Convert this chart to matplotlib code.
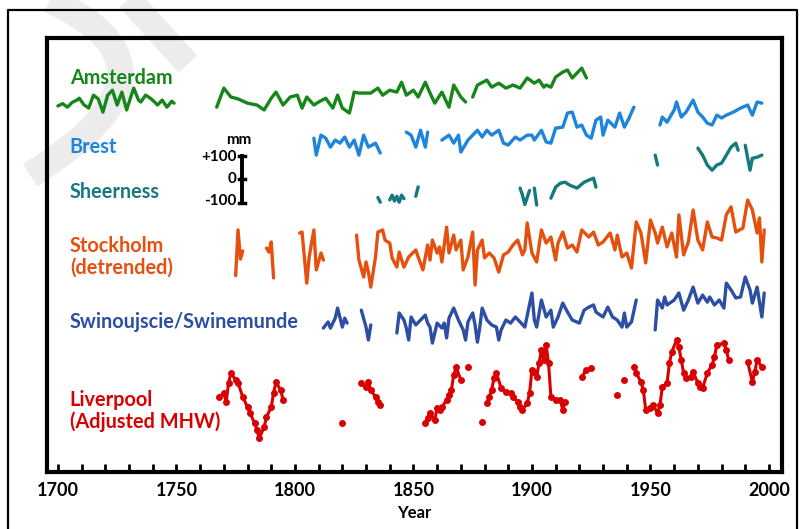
import numpy as np
import matplotlib
matplotlib.use("Agg")
import matplotlib.pyplot as plt
from matplotlib.lines import Line2D

nan = float("nan")

# Annual sea-level anomalies in mm; nan separates gaps in each record
amsterdam_year = [1700, 1702, 1704, 1706, 1708, 1709, 1711, 1713, 1715, 1717, 1719, 1721, 1723, 1725,
                  1727, 1729, 1731, 1732, 1734, 1735, 1737, 1739, 1741, 1742, 1744, 1746, 1748, 1749,
                  1758,
                  1767, 1770, 1773, 1776, 1780, 1784, 1787, 1790, 1792, 1795, 1798, 1801, 1803, 1805,
                  1808, 1810, 1813, 1816, 1818, 1820, 1823, 1825, 1827, 1832, 1835, 1837, 1840, 1843,
                  1845, 1847, 1850, 1852, 1855, 1857, 1859, 1862, 1865, 1867, 1870, 1872,
                  1874,
                  1875, 1877, 1881, 1883, 1886, 1889, 1892, 1895, 1898, 1901, 1903, 1905, 1906, 1908,
                  1910, 1913, 1915, 1917, 1919, 1921, 1923]
amsterdam_mm = [-25, -15, -30, -10, 0, 8, -20, -34, 21, 5, -51, 21, 42, -21,
                34, -42, 21, 51, 0, -8, 21, 8, -10, -21, 0, -30, -5, -13,
                nan,
                -30, 51, 13, 5, -13, -21, -42, 8, 34, -21, 13, 21, -34, 13,
                -21, -8, 8, -34, 21, -34, -55, 34, 30, 30, 51, 21, 42, 34,
                76, 21, 42, 13, 76, 30, -13, 34, -30, 64, 13, -8,
                nan,
                13, 64, 85, 55, 72, 51, 64, 51, 94, 72, 85, 55, 64, 55,
                98, 119, 128, 94, 115, 136, 94]

brest_year = [1808, 1809, 1811, 1813, 1815, 1817, 1819, 1821, 1823, 1825, 1827, 1829, 1831, 1834, 1836,
              1841,
              1847, 1849, 1851, 1853, 1855, 1856,
              1859,
              1862, 1865, 1867, 1869, 1870, 1873, 1875, 1877, 1879, 1881, 1883, 1886, 1888, 1890,
              1893, 1895, 1898, 1900, 1901, 1904, 1906, 1908, 1910, 1913, 1915, 1917, 1919, 1921,
              1923, 1925, 1927, 1929, 1930, 1932, 1935, 1937, 1939, 1941, 1943,
              1949,
              1954, 1955, 1957, 1960, 1961, 1963, 1965, 1968, 1970, 1972, 1974, 1976, 1978, 1980,
              1982, 1985, 1988, 1991, 1993, 1995, 1997]
brest_mm = [8, -64, 21, 8, -30, 0, -13, 13, -30, 0, -64, 21, -30, -13, -55,
            nan,
            34, 21, -30, 42, -30, 34,
            nan,
            0, 21, -13, 21, -51, 0, 21, 42, 13, 42, 21, 42, -13, -21,
            13, 0, 21, 21, 0, 42, -8, -13, 51, 55, 115, 119, 55, 64,
            21, 8, 85, 98, 21, 85, 55, 115, 55, 94, 140,
            nan,
            64, 98, 76, 128, 162, 98, 119, 170, 119, 98, 72, 64, 106, 94,
            106, 119, 136, 149, 106, 162, 157]

sheerness_year = [1835, 1836, 1838, 1840, 1841, 1842, 1843, 1844, 1845, 1846, 1849, 1851, 1852,
                  1880, 1895, 1896, 1897, 1898, 1899, 1900, 1901, 1902, 1905,
                  1908, 1910, 1912, 1914, 1916, 1919, 1920, 1922, 1924, 1926, 1927,
                  1940, 1952, 1953, 1960,
                  1970, 1972, 1974, 1976, 1978, 1980, 1982, 1984, 1986, 1987,
                  1988, 1990, 1992, 1993, 1995, 1997]
sheerness_mm = [-10, -30, nan, -20, 0, -25, -5, -30, 0, -15, nan, -5, 35,
                nan, 30, 0, -40, -10, 20, nan, 30, -42, nan,
                -13, 34, 51, 55, 42, 30, 38, 55, 64, 72, 34,
                nan, 170, 128, nan,
                200, 170, 128, 106, 128, 136, 170, 204, 221, 191,
                nan, 212, 106, 157, 161, 170]

stockholm_year = [1775, 1776, 1777, 1778, 1783,
                  1788, 1789, 1790, 1791, 1796,
                  1802, 1803, 1805, 1806, 1808, 1809, 1811, 1812, 1819,
                  1826, 1827, 1829, 1830, 1831, 1832, 1834, 1835, 1837, 1838,
                  1840, 1841, 1843, 1844, 1846, 1848, 1851, 1852, 1854, 1856,
                  1857, 1858, 1860, 1861, 1862, 1864, 1865, 1867, 1868, 1870,
                  1871, 1873, 1875, 1876, 1877, 1879, 1880, 1882, 1884, 1886,
                  1888, 1890, 1892, 1894, 1896, 1897, 1898, 1900, 1902, 1904,
                  1906, 1908, 1910, 1911, 1913, 1915, 1917, 1919, 1921, 1924,
                  1926, 1928, 1930, 1933, 1935, 1936, 1938, 1940, 1942, 1944,
                  1946, 1948, 1950, 1952, 1953, 1955, 1957, 1959, 1961, 1962,
                  1964, 1966, 1968, 1970, 1972, 1974, 1976, 1978, 1980, 1982,
                  1984, 1986, 1989, 1991, 1993, 1995, 1996, 1997, 1998]
stockholm_mm = [-130, 64, -60, -25, nan,
                -13, -30, 13, -140, nan,
                51, 55, -162, -51, 64, -106, -34, -64, nan,
                42, -64, -136, -72, -115, -179, -51, 55, 64, 21,
                8, -55, -94, -30, -94, -51, -21, -51, -106, 0,
                -64, 21, -34, -8, -72, 76, -34, 42, -21, 21,
                -106, -51, 55, -170, -21, 21, -55, -34, -55, -115,
                -42, -30, 0, 21, -42, -21, 94, -34, -72, 64,
                8, 34, -64, 8, 55, -13, 0, -30, 64, 34,
                55, 0, 13, 51, -21, 42, -51, -34, -98, 98,
                51, -76, 106, 51, 8, 76, -8, 51, -51, 128,
                -42, 13, 149, 21, -21, 98, 34, 30, 21, 128,
                162, 55, 72, 191, 149, 51, 115, -72, 64]

swinoujscie_year = [1812, 1814, 1815, 1817, 1818, 1820, 1821, 1822, 1825,
                    1828, 1830, 1831, 1832, 1837,
                    1843, 1844, 1846, 1847, 1848, 1849, 1851, 1853, 1855, 1856,
                    1857, 1858, 1860, 1862, 1863, 1864, 1865, 1867, 1869, 1871,
                    1872, 1873, 1875, 1876, 1877, 1878, 1879, 1881, 1883, 1885,
                    1886, 1887, 1889, 1891, 1893, 1895, 1897, 1900, 1901, 1902,
                    1904, 1906, 1908, 1909, 1911, 1913, 1915, 1917, 1920, 1922,
                    1924, 1926, 1927, 1930, 1932, 1934, 1936, 1938, 1939, 1940,
                    1942, 1944, 1948,
                    1952, 1953, 1955, 1956, 1957, 1960, 1962, 1964, 1966, 1968,
                    1970, 1972, 1974, 1975, 1977, 1979, 1981, 1982, 1984, 1986,
                    1988, 1990, 1992, 1993, 1995, 1997, 1998]
swinoujscie_mm = [-34, -8, -34, 8, 51, -30, 8, -13, nan,
                  42, -30, -85, -21, nan,
                  -55, 30, 0, -34, -85, 13, -21, 0, 21, -13,
                  -30, -98, -13, -34, -13, -76, 8, 51, 0, -42,
                  -85, -8, 30, -21, -94, -30, 51, 0, -21, -30,
                  -85, -42, 0, -13, 13, -8, -30, 115, 0, -30,
                  85, 13, 42, -30, 13, 72, 34, 0, -13, 42,
                  55, 64, 34, 13, 55, 13, 0, -30, 30, -30,
                  -8, 85, nan,
                  -42, 85, 51, 98, 64, 85, 115, 42, 85, 140,
                  72, 106, 76, 98, 64, 85, 51, 157, 128, 94,
                  98, 183, 128, 72, 140, 13, 115]

liverpool_year = [1768, 1770, 1771, 1772, 1773, 1775, 1776, 1778, 1780, 1781,
                  1783, 1784, 1785, 1787, 1788, 1790, 1791, 1792, 1794, 1795,
                  1805, 1820, 1824,
                  1828, 1830, 1831, 1832, 1834, 1835, 1836, 1845,
                  1855, 1856, 1857, 1859, 1860, 1861, 1862, 1864, 1865, 1866, 1867, 1868, 1870,
                  1872, 1873, 1876, 1879, 1880,
                  1881, 1882, 1883, 1884, 1885, 1887, 1889, 1891, 1892, 1894,
                  1895, 1896, 1898, 1899, 1900, 1901, 1902, 1903, 1904, 1905,
                  1906, 1907, 1908, 1910, 1912, 1913, 1914, 1917,
                  1921, 1923, 1925, 1930, 1936, 1938, 1939, 1941,
                  1943, 1944, 1946, 1947, 1948, 1950, 1951, 1953, 1954, 1955,
                  1957, 1958, 1959, 1961, 1962, 1963, 1964, 1965, 1967, 1968,
                  1970, 1971, 1972, 1974, 1976, 1977, 1978, 1981, 1982, 1983,
                  1987, 1991, 1993, 1994, 1995, 1997]
liverpool_mm = [13, 30, -8, 72, 115, 85, 72, 13, -30, -55,
                -98, -128, -162, -115, -72, -30, 30, 76, 42, 0,
                nan, -98, nan,
                72, 55, 76, 42, 13, -8, -21, nan,
                -98, -76, -55, -85, -34, -42, -30, 0, 21, 42, 106, 140, 85,
                nan, 140, nan, -94, nan,
                -13, 13, 42, 94, 115, 51, 34, 30, 13, -8,
                -30, -42, -13, 30, 128, 119, 98, 157, 212, 170,
                234, 157, 13, 0, 0, -42, -8, nan,
                98, 128, 136, nan, 21, nan, 85, nan,
                140, 115, 76, 42, -42, -34, -21, -55, -21, 55,
                72, 157, 204, 255, 225, 170, 115, 94, 98, 119,
                72, 55, 51, 115, 149, 183, 234, 242, 212, 170,
                nan, 162, 76, 119, 170, 140]

# vertical stacking of the records (mm)
offsets = {"Amsterdam": 1581, "Brest": 1411, "Sheerness": 1177,
           "Stockholm": 965, "Swinoujscie": 646, "Liverpool": 306}

colors = {"Amsterdam": "#17861a", "Brest": "#1f84dc", "Sheerness": "#16797f",
          "Stockholm": "#e5500f", "Swinoujscie": "#2c4ea3", "Liverpool": "#d80000"}

plt.rcParams["font.family"] = ["Lato", "DejaVu Sans"]
plt.rcParams["font.weight"] = "bold"

W, H = 803, 529
fig = plt.figure(figsize=(W / 100, H / 100), dpi=100)
fx = lambda px: px / W
fy = lambda py: 1 - py / H

# faint grey stamp strokes in the upper-left corner
t = np.linspace(0, 1, 60)
p0, p1, p2 = np.array([50, 0]), np.array([200, 70]), np.array([30, 175])
arc = ((1 - t) ** 2)[:, None] * p0 + (2 * t * (1 - t))[:, None] * p1 + (t ** 2)[:, None] * p2
fig.add_artist(Line2D(fx(arc[:, 0]), fy(arc[:, 1]), color="#ececec", lw=19,
                      solid_capstyle="butt", transform=fig.transFigure, zorder=-5))
fig.add_artist(Line2D([fx(125), fx(188)], [fy(-5), fy(64)], color="#ececec", lw=18,
                      solid_capstyle="butt", transform=fig.transFigure, zorder=-5))

ax = fig.add_axes([fx(47), fy(472), (782 - 47) / W, (472 - 38) / H])
ax.patch.set_visible(False)
ax.set_xlim(1695.4, 2005.5)
ax.set_ylim(0, 1845)

series = [("Amsterdam", amsterdam_year, amsterdam_mm),
          ("Brest", brest_year, brest_mm),
          ("Sheerness", sheerness_year, sheerness_mm),
          ("Stockholm", stockholm_year, stockholm_mm),
          ("Swinoujscie", swinoujscie_year, swinoujscie_mm)]
for name, yrs, vals in series:
    v = np.array(vals, dtype=float) + offsets[name]
    ax.plot(yrs, v, color=colors[name], lw=2.4, solid_joinstyle="round",
            solid_capstyle="round")

lv = np.array(liverpool_mm, dtype=float) + offsets["Liverpool"]
ax.plot(liverpool_year, lv, color=colors["Liverpool"], lw=2.2, marker="o",
        markersize=5, markeredgewidth=0)

# station labels
label_x = 1705
labels = [("Amsterdam", "Amsterdam", 1675),
          ("Brest", "Brest", 1381),
          ("Sheerness", "Sheerness", 1190),
          ("Stockholm", "Stockholm\n(detrended)", 916),
          ("Swinoujscie", "Swinoujscie/Swinemunde", 637),
          ("Liverpool", "Liverpool\n(Adjusted MHW)", 259)]
for key, txt, yy in labels:
    ax.text(label_x, yy, txt, color=colors[key], fontsize=14.3, fontweight="bold",
            ha="left", va="center", linespacing=1.1)

# 200 mm scale bar
bar_x, bar_mid = 1777.6, 1245
ax.plot([bar_x, bar_x], [bar_mid - 100, bar_mid + 100], color="black", lw=2.8)
for yy in (bar_mid - 100, bar_mid, bar_mid + 100):
    ax.plot([bar_x - 1.3, bar_x + 1.3], [yy, yy], color="black", lw=2.5)
ax.text(bar_x - 1.5, bar_mid + 165, "mm", fontsize=11, fontweight="bold", ha="center", va="center")
for yy, s in ((bar_mid + 95, "+100"), (bar_mid, "0"), (bar_mid - 95, "-100")):
    ax.text(bar_x - 2.2, yy, s, fontsize=11, fontweight="bold", ha="right", va="center")

# axes frame and ticks
for s in ax.spines.values():
    s.set_linewidth(3)
ax.set_yticks([])
ax.set_xticks(np.arange(1700, 2001, 50))
ax.set_xticks(np.arange(1700, 2001, 10), minor=True)
ax.tick_params(axis="x", which="both", direction="in", length=6, width=2, labelsize=13, pad=7)
ax.set_xticklabels([str(y) for y in range(1700, 2001, 50)], fontweight="bold")
fig.text(fx(414), fy(513), "Year", fontsize=12, fontweight="bold", ha="center", va="center")

# outer border
fig.add_artist(Line2D([fx(8), fx(8), fx(797), fx(797)], [fy(529), fy(10), fy(10), fy(529)],
                      color="black", lw=1.6, transform=fig.transFigure))

fig.savefig("out.png", dpi=100)
